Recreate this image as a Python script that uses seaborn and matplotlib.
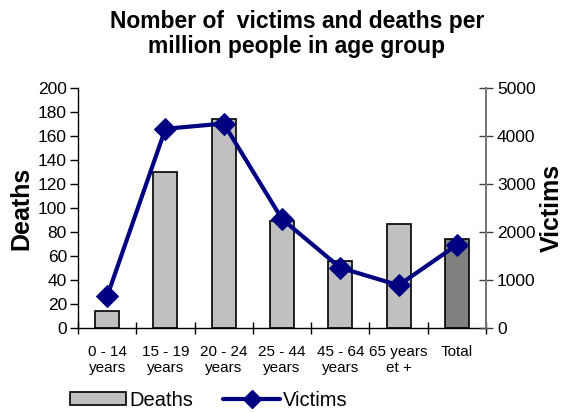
import numpy as np
import matplotlib
matplotlib.use("Agg")
import matplotlib.pyplot as plt
import seaborn as sns
from matplotlib.patches import Patch
from matplotlib.lines import Line2D

# data
ages = ["0 - 14\nyears", "15 - 19\nyears", "20 - 24\nyears", "25 - 44\nyears",
        "45 - 64\nyears", "65 years\net +", "Total"]
deaths = [14.5, 130, 174, 89, 56, 86.5, 74.5]
victims = [660, 4150, 4260, 2270, 1255, 890, 1730]

sns.set_theme(style="white")
plt.rcParams['font.family'] = ['Liberation Sans', 'DejaVu Sans']
plt.rcParams.update({"text.color": "black", "axes.labelcolor": "black",
                     "xtick.color": "black", "ytick.color": "black"})

fig = plt.figure(figsize=(5.68, 4.12), dpi=100)
ax = fig.add_axes([78/568, 1-328/412, 408/568, 240/412])

bar_colors = ["#C0C0C0"] * 6 + ["#808080"]
sns.barplot(x=ages, y=deaths, hue=ages, palette=bar_colors, legend=False,
            width=0.41, edgecolor="black", linewidth=1.2, saturation=1, ax=ax)

ax2 = ax.twinx()
x = np.arange(len(ages))
sns.lineplot(x=x, y=victims, ax=ax2, color="#000080", linewidth=3,
             marker="D", markersize=11, markeredgecolor="#000080")

ax.set_xlim(-0.5, len(ages) - 0.5)
ax.set_ylim(0, 200)
ax.set_yticks(np.arange(0, 201, 20))
ax2.set_ylim(0, 5000)
ax2.set_yticks(np.arange(0, 5001, 1000))

# x ticks: labels at centres, tick marks at boundaries
ax.set_xticks(x)
ax.set_xticklabels(ages, fontsize=11, color="black")
ax.tick_params(axis="x", which="major", length=0, pad=12)
ax.set_xticks(np.arange(-0.5, len(ages), 1), minor=True)
ax.tick_params(axis="x", which="minor", direction="inout", length=9,
               width=1, color="black", bottom=True)
ax.tick_params(axis="y", direction="out", length=6, width=1, color="black",
               labelsize=12.5, labelcolor="black", left=True, pad=2)
ax2.tick_params(axis="y", direction="inout", length=10, width=1, color="#404040",
                labelsize=12.5, labelcolor="black", right=True, pad=3)

for a in (ax, ax2):
    a.spines["top"].set_visible(False)
ax.spines["left"].set_color("black")
ax.spines["bottom"].set_color("black")
ax2.spines["right"].set_color("#808080")
ax2.spines["left"].set_visible(False)
ax2.spines["bottom"].set_visible(False)
for s in ("left", "bottom"):
    ax.spines[s].set_linewidth(1)
ax2.spines["right"].set_linewidth(1.2)

ax.set_ylabel("Deaths", fontsize=18, fontweight="bold", labelpad=3, color="black")
ax2.set_ylabel("Victims", fontsize=18, fontweight="bold", labelpad=3, color="black")
ax.set_xlabel("")

fig.text(297/568, 1-34/412, "Nomber of  victims and deaths per\nmillion people in age group",
         ha="center", va="center", fontsize=16.5, fontweight="bold", linespacing=1.15,
         color="black")

handles = [Patch(facecolor="#C0C0C0", edgecolor="black", linewidth=1.2),
           Line2D([0], [0], color="#000080", linewidth=3, marker="D", markersize=9)]
fig.legend(handles, ["Deaths", "Victims"], loc="center left",
           bbox_to_anchor=(70/568, 1-400/412), ncol=2, frameon=False,
           fontsize=14.5, handlelength=2.8, handleheight=0.6, handletextpad=0.15,
           columnspacing=1.5, borderpad=0, borderaxespad=0, labelcolor="black")

fig.savefig("out.png", dpi=100)
